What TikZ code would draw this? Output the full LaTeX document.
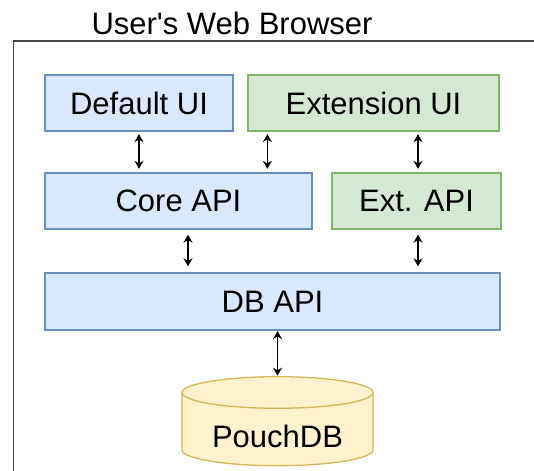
\documentclass[tikz,border=0pt]{standalone}
\usepackage{fontspec}
\setmainfont{Liberation Sans}
\usetikzlibrary{arrows.meta}
\definecolor{bluefill}{HTML}{DAE8FC}
\definecolor{bluedraw}{HTML}{6C8EBF}
\definecolor{greenfill}{HTML}{D5E8D4}
\definecolor{greendraw}{HTML}{82B366}
\definecolor{yellowfill}{HTML}{FFF2CC}
\definecolor{yellowdraw}{HTML}{D6B656}
\definecolor{framecol}{HTML}{444444}
\begin{document}
\begin{tikzpicture}[x=1pt,y=1pt,
  txt/.style={font=\fontsize{31}{36}\selectfont, text=black},
  box/.style={txt, rectangle, line width=1.3pt, inner sep=0pt, minimum height=56pt},
  bluebox/.style={box, fill=bluefill, draw=bluedraw},
  greenbox/.style={box, fill=greenfill, draw=greendraw},
  biarrow/.style={line width=1.5pt, {Stealth[length=8pt,width=9pt]}-{Stealth[length=8pt,width=9pt]}},
  framestyle/.style={draw=framecol, line width=1.8pt}]
\useasboundingbox (0,0) rectangle (534,470);
% outer frame (cut by the picture edge)
\draw[framestyle] (13.5,-5) -- (13.5,429) -- (540,429);
\node[txt, anchor=base] (title) at (232,435) {User\textquotesingle s Web Browser};
% boxes
\node[bluebox, minimum width=188pt] (dui) at (139,367) {Default UI};
\node[greenbox, minimum width=251pt] (eui) at (373.5,367) {Extension UI};
\node[bluebox, minimum width=267pt] (core) at (178.5,269) {Core API};
\node[greenbox, minimum width=169pt] (extapi) at (416.5,269) {Ext. API};
\node[bluebox, minimum width=455pt, minimum height=57pt] (db) at (272.5,168.5) {DB API};
% cylinder
\filldraw[fill=yellowfill, draw=yellowdraw, line width=1.3pt]
  (182,77.5) -- (182,20.1) arc (180:360:95.5 and 15.8) -- (373,77.5) arc (0:180:95.5 and 15.8) -- cycle;
\draw[yellowdraw, line width=1.3pt] (182,77.5) arc (180:360:95.5 and 15.8);
\coordinate (pouchtop) at (277.5,93.3);
\node[txt] (pouch) at (277.5,33.3) {PouchDB};
% connectors
\draw[biarrow, shorten <=2.5pt, shorten >=3.5pt] (dui.south) -- (dui.south |- core.north);
\draw[biarrow, shorten <=2.5pt, shorten >=3.5pt] ([xshift=20pt]eui.south west) -- ([xshift=20pt]eui.south west |- core.north);
\draw[biarrow, shorten <=2.5pt, shorten >=3.5pt] ([xshift=1.5pt]extapi.north |- eui.south) -- ([xshift=1.5pt]extapi.north);
\draw[biarrow, shorten <=5pt, shorten >=6pt] ([xshift=9.5pt]core.south) -- ([xshift=9.5pt]core.south |- db.north);
\draw[biarrow, shorten <=5pt, shorten >=6pt] ([xshift=1.5pt]extapi.south) -- ([xshift=1.5pt]extapi.south |- db.north);
\draw[biarrow, shorten <=0.5pt, shorten >=1pt] (pouchtop |- db.south) -- (pouchtop);
\end{tikzpicture}
\end{document}
